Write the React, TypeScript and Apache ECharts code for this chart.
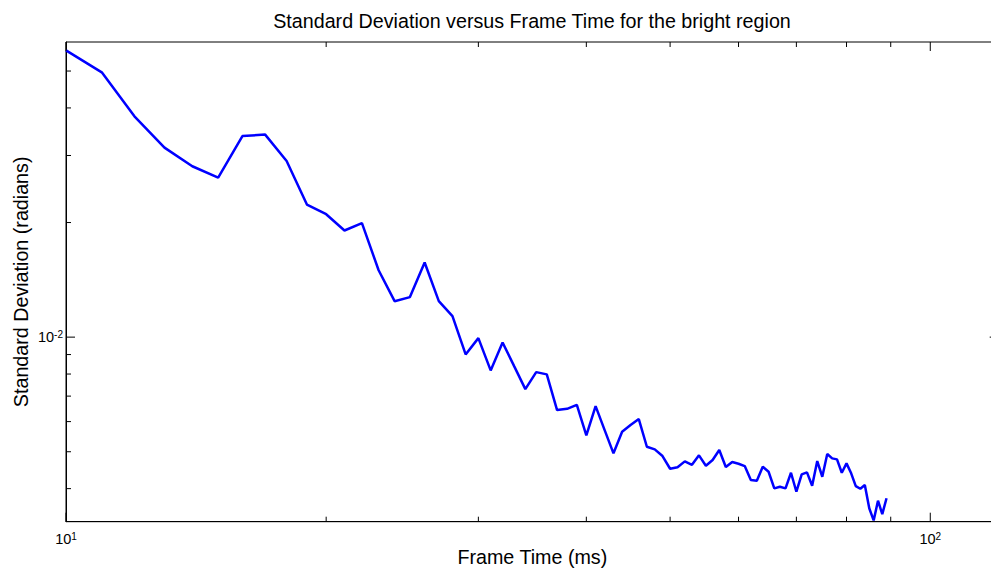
import React, { useEffect, useRef } from "react";
import * as echarts from "echarts";

// Frame time (ms)
const FRAME_TIME = [
  10, 11, 12, 13, 14, 15, 16, 17, 18, 19, 20, 21, 22, 23, 24, 25, 26, 27, 28, 29,
  30, 31, 32, 33, 34, 35, 36, 37, 38, 39, 40, 41, 42, 43, 44, 45, 46, 47, 48, 49,
  50, 51, 52, 53, 54, 55, 56, 57, 58, 59, 60, 61, 62, 63, 64, 65, 66, 67, 68, 69,
  70, 71, 72, 73, 74, 75, 76, 77, 78, 79, 80, 81, 82, 83, 84, 85, 86, 87, 88, 89,
];
// Standard deviation (radians)
const STD_DEV = [
  0.05666, 0.0496, 0.03803, 0.03147, 0.02811, 0.02625, 0.03375, 0.03404, 0.02902, 0.0223,
  0.02103, 0.01906, 0.01992, 0.01499, 0.01243, 0.01274, 0.01571, 0.01243, 0.01135, 0.009008,
  0.00994, 0.008177, 0.009685, 0.008392, 0.007303, 0.008094, 0.007983, 0.006433, 0.006483, 0.006642,
  0.005521, 0.00659, 0.0057, 0.004952, 0.005642, 0.005875, 0.006092, 0.005153, 0.005072, 0.004871,
  0.004511, 0.00455, 0.004718, 0.004621, 0.004892, 0.004594, 0.004755, 0.005051, 0.004558, 0.004697,
  0.004649, 0.004585, 0.004214, 0.004196, 0.004566, 0.00443, 0.004007, 0.004046, 0.004007, 0.004403,
  0.003926, 0.004361, 0.004414, 0.00407, 0.004726, 0.004298, 0.004931, 0.004804, 0.004775, 0.004403,
  0.00466, 0.004388, 0.004062, 0.003997, 0.004087, 0.003552, 0.0033, 0.003718, 0.00343, 0.003773,
];

const X_MIN = 10;
const X_MAX = 120;
const Y_MIN = 0.003275;
const Y_MAX = 0.0596;

const X_MAJOR_TICKS = [10, 100];
const X_MINOR_TICKS = [20, 30, 40, 50, 60, 70, 80, 90];
const Y_MAJOR_TICKS = [0.01];
const Y_MINOR_TICKS = [0.004, 0.005, 0.006, 0.007, 0.008, 0.009, 0.02, 0.03, 0.04, 0.05];

const TITLE = "Standard Deviation versus Frame Time for the bright region";
const X_NAME = "Frame Time (ms)";
const Y_NAME = "Standard Deviation (radians)";

const FONT = "'Liberation Sans', Arial, Helvetica, sans-serif";

const isPow10 = (v: number) => {
  const l = Math.log10(v);
  return Math.abs(l - Math.round(l)) < 1e-6;
};
const powLabel = (v: number) =>
  isPow10(v) ? `{b|10}{s|${Math.round(Math.log10(v))}}` : "";

const labelRich = {
  b: { fontSize: 14.5, fontFamily: FONT, color: "#000" },
  s: { fontSize: 10, fontFamily: FONT, color: "#000", verticalAlign: "top" },
};

export default function App() {
  const ref = useRef<HTMLDivElement>(null);

  useEffect(() => {
    if (!ref.current) return;
    const chart = echarts.init(ref.current, null, { renderer: "svg" });

    const tickData = [
      ...X_MAJOR_TICKS.map((v) => [v, Y_MIN, 9, 0]),
      ...X_MINOR_TICKS.map((v) => [v, Y_MIN, 5, 0]),
      ...Y_MAJOR_TICKS.map((v) => [X_MIN, v, 9, 1]),
      ...Y_MINOR_TICKS.map((v) => [X_MIN, v, 5, 1]),
    ];

    chart.setOption({
      animation: false,
      backgroundColor: "#fff",
      graphic: [
        {
          type: "text",
          x: 532,
          y: 21,
          style: {
            text: TITLE,
            font: `19.7px ${FONT}`,
            fill: "#000",
            textAlign: "center",
            align: "center",
            textVerticalAlign: "middle",
            verticalAlign: "middle",
          },
        },
      ],
      grid: {
        left: 66,
        right: 1010 - 998.7,
        top: 42,
        bottom: 570 - 521.7,
        containLabel: false,
        outerBoundsMode: "none",
        show: true,
        borderColor: "#000",
        borderWidth: 1,
        backgroundColor: "#fff",
      },
      xAxis: {
        type: "log",
        logBase: 10,
        min: X_MIN,
        max: X_MAX,
        name: X_NAME,
        nameLocation: "middle",
        nameGap: 25,
        nameMoveOverlap: false,
        nameTextStyle: { fontSize: 19.7, fontFamily: FONT, color: "#000" },
        axisLine: { lineStyle: { color: "#000", width: 1 } },
        axisTick: { show: false },
        splitLine: { show: false },
        minorTick: { show: false },
        axisLabel: {
          formatter: powLabel,
          margin: 10,
          rich: labelRich,
          color: "#000",
          showMinLabel: true,
          showMaxLabel: true,
        },
      },
      yAxis: {
        type: "log",
        logBase: 10,
        min: Y_MIN,
        max: Y_MAX,
        name: Y_NAME,
        nameLocation: "middle",
        nameRotate: 90,
        nameGap: 35,
        nameMoveOverlap: false,
        nameTextStyle: { fontSize: 19.7, fontFamily: FONT, color: "#000" },
        axisLine: { lineStyle: { color: "#000", width: 1 } },
        axisTick: { show: false },
        splitLine: { show: false },
        axisLabel: {
          formatter: powLabel,
          margin: 3,
          rich: labelRich,
          color: "#000",
        },
      },
      series: [
        {
          type: "line",
          data: FRAME_TIME.map((t, i) => [t, STD_DEV[i]]),
          showSymbol: false,
          symbol: "none",
          lineStyle: { color: "#0000ff", width: 2.5 },
          itemStyle: { color: "#0000ff" },
          z: 3,
        },
        {
          type: "custom",
          silent: true,
          clip: false,
          z: 4,
          dimensions: ["a", "b", "len", "dir"],
          encode: { x: 0, y: 1 },
          data: tickData,
          renderItem: (params: any, api: any) => {
            const a = api.value(0);
            const b = api.value(1);
            const len = api.value(2);
            const dir = api.value(3);
            const style = { stroke: "#000", lineWidth: 1 };
            if (dir === 0) {
              const p1 = api.coord([a, Y_MIN]);
              const p2 = api.coord([a, Y_MAX]);
              return {
                type: "group",
                children: [
                  { type: "line", shape: { x1: p1[0], y1: p1[1], x2: p1[0], y2: p1[1] - len }, style },
                  { type: "line", shape: { x1: p2[0], y1: p2[1], x2: p2[0], y2: p2[1] + len }, style },
                ],
              };
            }
            const q1 = api.coord([X_MIN, b]);
            const q2 = api.coord([X_MAX, b]);
            return {
              type: "group",
              children: [
                { type: "line", shape: { x1: q1[0], y1: q1[1], x2: q1[0] + len, y2: q1[1] }, style },
                { type: "line", shape: { x1: q2[0], y1: q2[1], x2: q2[0] - len, y2: q2[1] }, style },
              ],
            };
          },
        },
      ],
    });

    return () => chart.dispose();
  }, []);

  return (
    <div
      style={{
        position: "fixed",
        left: 0,
        top: 0,
        width: 991,
        height: 570,
        overflow: "hidden",
        background: "#fff",
      }}
    >
      <div ref={ref} style={{ width: 1010, height: 570 }} />
    </div>
  );
}
